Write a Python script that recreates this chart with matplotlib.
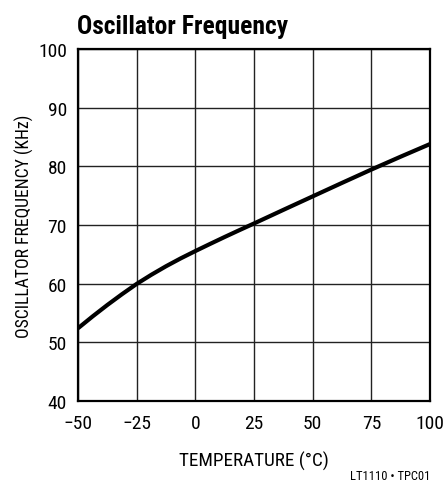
import matplotlib
matplotlib.use("Agg")
import matplotlib.pyplot as plt

temp = [-50, -43.75, -37.5, -31.25, -25, -18.75, -12.5, -6.25, 0, 6.25, 12.5,
        18.75, 25, 37.5, 50, 62.5, 75, 87.5, 100]
freq = [52.4, 54.43, 56.37, 58.21, 59.96, 61.52, 62.97, 64.31, 65.56, 66.77,
        67.96, 69.12, 70.26, 72.58, 74.88, 77.18, 79.45, 81.65, 83.8]

xticks = [-50, -25, 0, 25, 50, 75, 100]
yticks = [40, 50, 60, 70, 80, 90, 100]

plt.rcParams["font.family"] = ["Roboto Condensed", "Roboto", "DejaVu Sans"]

fig = plt.figure(figsize=(4.47, 4.85), dpi=100)
ax = fig.add_axes([0.1745, 0.1711, 0.7875, 0.7258])

ax.plot(temp, freq, color="black", lw=3, solid_capstyle="butt")
ax.set_xlim(-50, 100)
ax.set_ylim(40, 100)
ax.set_xticks(xticks)
ax.set_yticks(yticks)
ax.set_xticklabels([str(t).replace("-", "\u2212") for t in xticks])
ax.tick_params(length=0, labelsize=14, pad=9)
ax.tick_params(axis="y", pad=8)
ax.grid(True, color="#222222", lw=1.0)
for s in ax.spines.values():
    s.set_linewidth(1.6)
    s.set_color("black")

ax.set_xlabel("TEMPERATURE (\u00b0C)", fontsize=13.8, labelpad=14)
ax.set_ylabel("OSCILLATOR FREQUENCY (KHz)", fontsize=12.7, labelpad=3)

fig.text(0.172, 0.929, "Oscillator Frequency", fontsize=18.4, fontweight="bold",
         ha="left", va="baseline")
fig.text(0.962, 0.004, "LT1110 \u2022 TPC01", fontsize=9, ha="right", va="bottom")

fig.savefig("out.png", dpi=100)
